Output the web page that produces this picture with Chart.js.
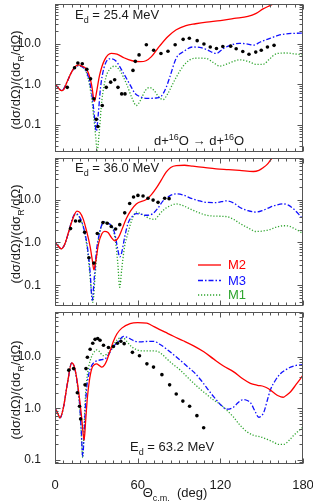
<!DOCTYPE html>
<html>
<head>
<meta charset="utf-8">
<script src="https://cdn.jsdelivr.net/npm/chart.js@4/dist/chart.umd.min.js"></script>
<style>
  html, body { margin: 0; padding: 0; background: #fff; }
  #wrap { position: relative; width: 313px; height: 503px; }
  canvas { position: absolute; left: 0; }
</style>
</head>
<body>
<div id="wrap">
  <canvas id="p1" width="313" height="156" style="top:0px"></canvas>
  <canvas id="p2" width="313" height="156" style="top:154px"></canvas>
  <canvas id="p3" width="313" height="195" style="top:308px"></canvas>
</div>
<script>
// ---- data (angle in deg, ratio to Rutherford) ----
const yTickVals = [0.1, 1, 10];
const xTickStep = 60;

// panel 1: Ed = 25.4 MeV
const p1RedX = [0, 2, 4.5, 6, 9, 12, 14.5, 17, 19.5, 22.7, 25, 26.5, 28.7, 30, 32.4, 36, 40.8, 45, 50, 56, 62, 66, 70, 76, 82, 88, 95, 102, 110, 120, 130, 140, 146, 151, 156, 162];
const p1RedY = [1.0, 0.85, 0.70, 0.72, 1.2, 2.0, 2.7, 3.0, 2.8, 2.4, 1.6, 1.0, 0.38, 0.6, 1.7, 4.0, 5.8, 5.5, 4.5, 3.8, 3.6, 3.8, 4.8, 8.8, 15, 22, 28, 31, 34, 37, 42, 47, 56, 72, 87, 110];
const p1BlueX = [0, 2, 5, 9, 12, 14.5, 17, 19.5, 22.7, 25, 27, 28.5, 30, 31.5, 33, 35.5, 39.6, 44, 50, 55, 58, 61.5, 67, 73.6, 77, 80.8, 83.3, 88, 93, 100, 106, 110, 117, 122, 127, 134, 140, 144, 149, 156, 162, 168, 174, 180];
const p1BlueY = [1.0, 0.85, 0.70, 1.2, 2.0, 2.6, 2.9, 2.7, 2.1, 1.2, 0.5, 0.18, 0.07, 0.2, 0.8, 2.5, 4.25, 3.8, 1.8, 0.9, 0.6, 0.50, 0.45, 0.46, 0.5, 0.86, 1.5, 4.4, 6.3, 8.3, 8.0, 7.2, 5.75, 7.5, 9.1, 10.2, 9.8, 9.2, 11, 13.5, 16, 17.5, 18, 18.3];
const p1GreenX = [0, 2, 5, 9, 12, 14.5, 17, 19.5, 22.7, 25, 27, 29, 30.7, 32, 34, 37, 40, 43.3, 47, 52, 56, 59, 62, 65.5, 68.7, 72, 75, 78.4, 82, 85, 88, 93, 97.8, 104, 110, 115, 119.6, 126, 134, 140, 146, 151, 156, 161, 168, 174, 180];
const p1GreenY = [1.0, 0.85, 0.70, 1.2, 2.0, 2.6, 2.9, 2.7, 2.0, 1.0, 0.35, 0.08, 0.024, 0.06, 0.4, 1.5, 2.4, 2.8, 2.2, 1.0, 0.45, 0.30, 0.4, 0.7, 0.83, 0.7, 0.5, 0.42, 0.6, 0.95, 1.49, 2.8, 4.0, 4.4, 4.3, 3.4, 2.8, 3.3, 4.0, 3.7, 3.1, 3.1, 4.3, 5.7, 5.9, 5.6, 5.3];
const p1DataX = [8.9, 14.2, 16.6, 19.8, 23.1, 25.8, 28.2, 30, 31.1, 34.3, 37.2, 40.4, 43.3, 45.7, 48.4, 50.8, 56.6, 58.3, 61, 66.3, 71.6, 76.9, 82, 87.2, 93, 97.5, 103.2, 108.1, 112.7, 117.2, 121.8, 127.5, 131.5, 136.3, 140.8, 145.7, 149.7, 154.2, 159];
const p1DataY = [0.84, 2.55, 3.35, 3.2, 2.34, 1.36, 0.44, 0.137, 0.091, 0.30, 0.84, 1.13, 1.29, 0.84, 0.58, 0.58, 2.2, 3.67, 5.3, 9.4, 6.9, 5.75, 6.5, 9.4, 12.8, 13.6, 11.9, 9.8, 8.3, 7.6, 8.5, 8.7, 7.5, 6.4, 5.5, 6.2, 6.9, 8.3, 9.1];

// panel 2: Ed = 36.0 MeV
const p2RedX = [0, 2, 4.5, 7, 10, 13, 15.9, 18, 20.5, 23, 25.5, 27, 28.2, 29.5, 31.5, 34, 36, 38.5, 41, 43.3, 46, 48, 51.8, 55, 59, 66.3, 70, 73.6, 77, 80.8, 84, 88, 94, 100, 108, 117, 126, 134, 144, 148, 151, 154, 157, 160];
const p2RedY = [1.0, 0.85, 0.71, 0.9, 1.8, 3.6, 5.4, 5.0, 3.5, 1.8, 0.8, 0.4, 0.23, 0.35, 0.9, 1.6, 1.82, 1.7, 1.3, 1.09, 1.3, 1.8, 3.6, 5.5, 7.9, 10, 13, 18.6, 28, 44, 56, 62, 63, 60, 56, 52, 50, 48, 45, 48, 55, 66, 88, 110];
const p2BlueX = [0, 2, 4.5, 7, 10, 12.5, 14.9, 17, 19.5, 22, 24, 25.5, 27, 28.5, 30, 32, 34, 36, 38.5, 42, 44, 45.5, 47, 48.5, 50.5, 53, 56, 59, 62, 66, 71, 75, 78.4, 83, 88, 93, 97.8, 104, 110, 117, 124.5, 130, 134, 140, 146, 151, 156, 161, 165.7, 169, 173, 177, 180];
const p2BlueY = [1.0, 0.85, 0.71, 0.9, 1.8, 3.5, 4.7, 4.3, 3.0, 1.5, 0.6, 0.2, 0.045, 0.15, 0.6, 1.5, 2.6, 3.05, 2.8, 2.2, 1.3, 0.7, 0.46, 0.6, 1.3, 2.8, 4.0, 4.7, 4.6, 4.3, 4.7, 6.5, 9.3, 12, 13.6, 12.8, 11, 9.5, 8.6, 8.5, 9.3, 8.2, 6.6, 5.5, 5.1, 5.6, 6.6, 7.5, 7.9, 7.5, 6.1, 4.5, 3.45];
const p2GreenX = [0, 2, 4.5, 7, 10, 12.5, 14.9, 17, 19.5, 22, 24, 25.5, 27.5, 29, 30.5, 32, 34, 36, 38.5, 42, 44, 45.5, 47, 48.5, 50.5, 53, 56, 59, 62, 66, 69, 72.4, 75, 78.4, 83, 88, 93, 97.8, 104, 110, 117, 124.5, 130, 134, 140, 146, 151, 156, 161, 166, 170, 173, 177, 180];
const p2GreenY = [1.0, 0.85, 0.71, 0.9, 1.8, 3.4, 4.5, 4.2, 2.9, 1.4, 0.5, 0.15, 0.04, 0.15, 0.6, 1.4, 2.6, 3.0, 2.8, 2.1, 1.0, 0.35, 0.09, 0.25, 0.8, 1.67, 3.5, 5.1, 4.7, 4.0, 3.6, 3.45, 4.2, 5.6, 7.0, 7.9, 7.2, 6.1, 5.0, 4.3, 4.1, 4.0, 3.4, 2.8, 2.2, 1.8, 1.85, 2.0, 2.3, 2.45, 2.4, 2.17, 1.85, 1.6];
const p2DataX = [11.3, 14.9, 17.8, 21.5, 24.6, 28.2, 30.7, 34.8, 37.9, 40.8, 44, 47, 50.6, 54.2, 57, 60.2, 63.9, 67.5, 71.2, 74.8, 79.6, 82.8];
const p2DataY = [2.1, 3.16, 3.16, 1.73, 0.44, 0.33, 1.62, 2.9, 2.8, 2.36, 2.06, 2.6, 4.9, 8.1, 11.5, 12.5, 12.1, 10.7, 9.7, 8.6, 10.7, 10.5];

// panel 3: Ed = 63.2 MeV
const p3RedX = [0, 2, 3.6, 6, 9, 12.1, 14, 16, 18, 19.5, 21.1, 22.3, 23.5, 25, 26.7, 28.5, 30.3, 32, 34, 36, 37.6, 40, 42.4, 45, 48.5, 54.5, 60, 66.7, 70, 74, 80, 86, 93, 100.6, 108, 115, 122, 129.7, 136, 141.8, 147, 151.5, 155, 158.8, 162, 165.6, 168, 171, 175, 180];
const p3RedY = [1.0, 0.8, 0.65, 1.0, 3.0, 7.6, 6.5, 3.5, 1.4, 0.6, 0.24, 0.6, 1.6, 3.5, 5.9, 7.0, 7.3, 6.8, 6.3, 7.0, 8.5, 13, 20, 28, 36, 44, 46, 45, 41, 36, 30, 25, 20.5, 16.3, 12.5, 9.1, 6.7, 5.1, 3.8, 3.06, 2.8, 2.65, 2.4, 2.0, 1.75, 1.64, 1.8, 2.1, 2.9, 4.4];
const p3BlueX = [0, 2, 3.6, 6, 9, 12.1, 14, 16, 18, 19, 20.1, 21.2, 22, 23, 24.8, 26.7, 29, 31.5, 34, 36.4, 38.8, 41.2, 43.5, 46, 49.7, 52, 54.5, 58, 61.8, 66, 71.5, 76, 81.2, 86, 91, 96, 100.6, 106, 110.3, 115, 120, 124.8, 129.7, 133, 137, 140, 142, 145, 147.9, 150, 151.5, 154, 156.4, 160, 163.6, 167, 171, 175, 180];
const p3BlueY = [1.0, 0.8, 0.65, 1.0, 3.0, 7.5, 6.4, 3.3, 1.1, 0.4, 0.117, 0.35, 1.0, 2.46, 5.0, 6.8, 8.0, 8.5, 8.8, 9.1, 11, 14, 17, 20, 25, 24, 22.4, 20, 19.4, 19.8, 20, 17.5, 14, 11, 8.5, 6.5, 5.1, 3.5, 2.46, 1.7, 1.19, 0.96, 1.06, 1.3, 1.48, 1.4, 1.28, 0.9, 0.67, 0.72, 0.83, 1.4, 2.3, 3.5, 4.7, 5.5, 6.3, 6.8, 7.0];
const p3GreenX = [0, 2, 3.6, 6, 9, 12.1, 14, 16, 18, 19, 20.1, 21.2, 22, 23, 24.5, 26.5, 28.5, 30.3, 32, 35, 37, 40, 42.5, 44.8, 47, 49.7, 52, 55.8, 60, 64.2, 70, 74, 78, 81.2, 86, 91, 95, 99.4, 105, 110.3, 115, 120, 125, 129.7, 134, 139.4, 144, 149, 154, 158.8, 162, 166, 170, 173.3, 177, 180];
const p3GreenY = [1.0, 0.8, 0.65, 1.0, 3.0, 7.5, 6.3, 3.2, 1.0, 0.35, 0.11, 0.5, 1.6, 3.5, 6.5, 10, 12.5, 13.6, 12.8, 10.5, 11, 13, 17, 21, 23, 23, 20, 15.5, 13.5, 13, 13, 12.8, 11, 9.1, 7, 5.5, 4.3, 3.3, 2.4, 1.84, 1.45, 1.19, 0.9, 0.67, 0.48, 0.35, 0.3, 0.28, 0.25, 0.22, 0.2, 0.2, 0.24, 0.30, 0.37, 0.43];
const p3DataX = [10, 13.5, 16.2, 17.8, 18.6, 21.8, 22.5, 23.5, 25.5, 27.4, 29.1, 31, 32.7, 35.2, 38.8, 42.4, 45.3, 47.8, 50.2, 56.2, 61.3, 66.7, 71.5, 77.6, 83.2, 88, 92.8, 97.7, 103, 107.9];
const p3DataY = [5.5, 5.9, 2.0, 1.1, 0.62, 2.85, 5.9, 9.8, 14, 18.3, 21.8, 22.7, 21, 16.7, 15.1, 15.8, 18.3, 20, 18, 12.2, 10.5, 7.3, 6.3, 4.5, 2.85, 1.9, 1.38, 1.1, 0.72, 0.42];

// ---- styling ----
const FONT = '"Liberation Sans", Arial, Helvetica, sans-serif';
const RED = '#ff0000';
const BLUE = '#1010ff';
const GREEN = '#2fa52f';
const FRAME = '#555555';
const TEXT = '#1a1a1a';
const DASH_BLUE = [5, 2, 1.5, 2];
const DASH_GREEN = [1.2, 1.8];

const pts = (xs, ys) => xs.map((x, i) => ({ x: x, y: ys[i] }));

function curve(xs, ys, color, dash) {
  return {
    data: pts(xs, ys),
    borderColor: color,
    borderWidth: 1.3,
    borderDash: dash,
    pointRadius: 0,
    fill: false,
    cubicInterpolationMode: 'monotone'
  };
}

function dots(xs, ys) {
  return {
    data: pts(xs, ys),
    showLine: false,
    pointRadius: 1.8,
    pointBackgroundColor: '#000',
    pointBorderWidth: 0
  };
}

// draw text with sub/superscript pieces: [text, 'n'|'sub'|'sup']
function drawRich(ctx, x, y, parts, size, color, align) {
  const fontFor = m => (m === 'n' ? size : Math.round(size * 0.72)) + 'px ' + FONT;
  let total = 0;
  parts.forEach(p => { ctx.font = fontFor(p[1]); total += ctx.measureText(p[0]).width; });
  let cx = align === 'center' ? x - total / 2 : x;
  ctx.fillStyle = color;
  ctx.textBaseline = 'alphabetic';
  ctx.textAlign = 'left';
  parts.forEach(p => {
    ctx.font = fontFor(p[1]);
    const dy = p[1] === 'sub' ? size * 0.3 : p[1] === 'sup' ? -size * 0.42 : 0;
    ctx.fillText(p[0], cx, y + dy);
    cx += ctx.measureText(p[0]).width;
  });
}

const yTitle = [['(d\u03c3/d\u03a9)/(d\u03c3', 'n'], ['R', 'sub'], ['/d\u03a9)', 'n']];

const decor = {
  id: 'decor',
  afterDraw(chart, args, opts) {
    const { ctx, chartArea: a, scales } = chart;
    const xs = scales.x, ys = scales.y;
    const L = Math.round(a.left) + 0.5, R = Math.round(a.right) - 0.5;
    const T = Math.round(a.top) + 0.5, B = Math.round(a.bottom) - 0.5;
    ctx.save();
    ctx.strokeStyle = FRAME;
    ctx.lineWidth = 1;
    ctx.setLineDash([]);
    ctx.beginPath();
    // inside ticks on x (top and bottom)
    for (let d = 0; d <= 180; d += 6) {
      const px = Math.round(xs.getPixelForValue(d)) + 0.5;
      const len = d % xTickStep === 0 ? 5 : 3;
      ctx.moveTo(px, B); ctx.lineTo(px, B - len);
      ctx.moveTo(px, T); ctx.lineTo(px, T + len);
    }
    // inside ticks on y (left and right)
    for (let e = -2; e <= 2; e++) {
      for (let m = 1; m <= 9; m++) {
        const v = m * Math.pow(10, e);
        if (v < ys.min || v > ys.max) continue;
        const py = Math.round(ys.getPixelForValue(v)) + 0.5;
        const len = m === 1 ? 5 : 3;
        ctx.moveTo(L, py); ctx.lineTo(L + len, py);
        ctx.moveTo(R, py); ctx.lineTo(R - len, py);
      }
    }
    ctx.stroke();
    ctx.strokeRect(L, T, R - L, B - T);

    // y title
    ctx.save();
    ctx.translate(15, (a.top + a.bottom) / 2 + 2);
    ctx.rotate(-Math.PI / 2);
    drawRich(ctx, 0, 5, yTitle, 13, TEXT, 'center');
    ctx.restore();

    (opts.texts || []).forEach(t => drawRich(ctx, t.x, t.y, t.parts, t.size, TEXT, t.align || 'left'));

    if (opts.legend) {
      opts.legend.forEach(it => {
        ctx.strokeStyle = it.color;
        ctx.lineWidth = 1.3;
        ctx.setLineDash(it.dash);
        ctx.beginPath();
        ctx.moveTo(198, it.y); ctx.lineTo(221, it.y);
        ctx.stroke();
        ctx.font = '13px ' + FONT;
        ctx.fillStyle = it.color;
        ctx.textAlign = 'left';
        ctx.textBaseline = 'middle';
        ctx.fillText(it.label, 228, it.y + 0.5);
      });
    }
    if (opts.xTitle) {
      drawRich(ctx, (a.left + a.right) / 2 - 4, 189,
        [['\u0398', 'n'], ['c.m.', 'sub'], ['  (deg)', 'n']], 13, TEXT, 'center');
    }
    ctx.restore();
  }
};

function makePanel(id, sets, yMin, yMax, pad, showX, decorOpts) {
  return new Chart(document.getElementById(id), {
    type: 'line',
    data: { datasets: sets },
    options: {
      responsive: false,
      animation: false,
      events: [],
      layout: { padding: pad },
      plugins: { legend: { display: false }, tooltip: { enabled: false }, decor: decorOpts },
      scales: {
        x: {
          type: 'linear', min: 0, max: 180, display: showX,
          grid: { display: false }, border: { display: false },
          ticks: { stepSize: xTickStep, padding: 6, color: TEXT, font: { family: FONT, size: 13 } },
          afterFit: s => {
            if (!showX) return;
            s.height = 39; s.paddingLeft = 0; s.paddingRight = 0;
          }
        },
        y: {
          type: 'logarithmic', min: yMin, max: yMax,
          grid: { display: false }, border: { display: false },
          ticks: { padding: 6, autoSkip: false, color: TEXT, font: { family: FONT, size: 12 },
            callback: v => Number(v).toFixed(1) },
          afterBuildTicks: s => { s.ticks = yTickVals.map(v => ({ value: v })); },
          afterFit: s => { s.width = 55; s.paddingTop = 0; s.paddingBottom = 0; }
        }
      }
    },
    plugins: [decor]
  });
}

const Ed = v => [['E', 'n'], ['d', 'sub'], [' = ' + v + ' MeV', 'n']];

makePanel('p1', [
  dots(p1DataX, p1DataY),
  curve(p1RedX, p1RedY, RED, []),
  curve(p1BlueX, p1BlueY, BLUE, DASH_BLUE),
  curve(p1GreenX, p1GreenY, GREEN, DASH_GREEN)
], 0.0215, 95, { top: 0, right: 10, bottom: 1, left: 0 }, false, {
  texts: [
    { x: 75, y: 19, size: 13, parts: Ed('25.4') },
    { x: 154, y: 145, size: 13, parts: [['d+', 'n'], ['16', 'sup'], ['O \u2192 d+', 'n'], ['16', 'sup'], ['O', 'n']] }
  ]
});

makePanel('p2', [
  dots(p2DataX, p2DataY),
  curve(p2RedX, p2RedY, RED, []),
  curve(p2BlueX, p2BlueY, BLUE, DASH_BLUE),
  curve(p2GreenX, p2GreenY, GREEN, DASH_GREEN)
], 0.033, 93, { top: 1, right: 10, bottom: 1, left: 0 }, false, {
  texts: [{ x: 75, y: 18, size: 13, parts: Ed('36.0') }],
  legend: [
    { label: 'M2', color: RED, dash: [], y: 111 },
    { label: 'M3', color: BLUE, dash: DASH_BLUE, y: 126.5 },
    { label: 'M1', color: GREEN, dash: DASH_GREEN, y: 141 }
  ]
});

makePanel('p3', [
  dots(p3DataX, p3DataY),
  curve(p3RedX, p3RedY, RED, []),
  curve(p3BlueX, p3BlueY, BLUE, DASH_BLUE),
  curve(p3GreenX, p3GreenY, GREEN, DASH_GREEN)
], 0.083, 74, { top: 1, right: 10, bottom: 0, left: 0 }, true, {
  texts: [{ x: 130, y: 143, size: 13, parts: Ed('63.2') }],
  xTitle: true
});
</script>
</body>
</html>
